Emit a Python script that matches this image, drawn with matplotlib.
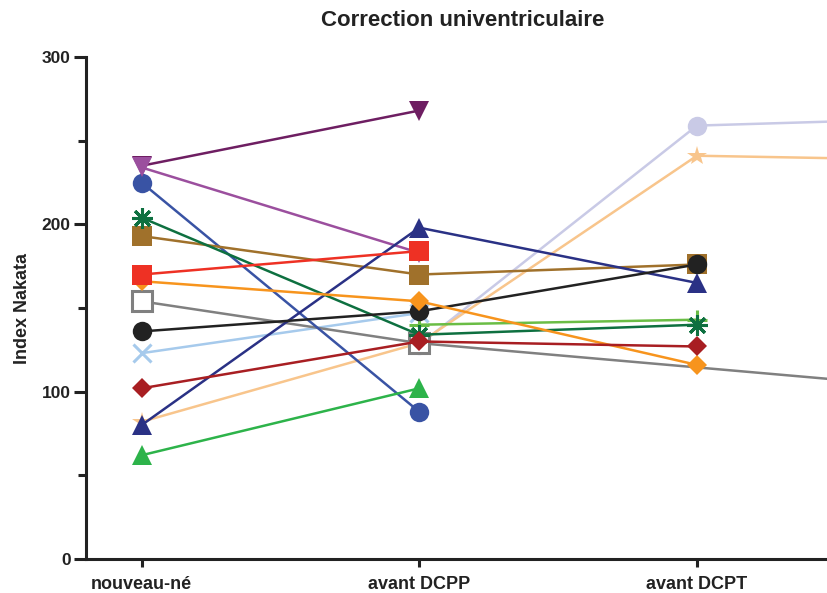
import numpy as np
import matplotlib
matplotlib.use('Agg')
import matplotlib.pyplot as plt

plt.rcParams['font.family'] = ['Liberation Sans', 'DejaVu Sans']
plt.rcParams['font.weight'] = 'bold'

nan = np.nan

# Categories (4th time point lies beyond the right edge of the picture)
categories = ['nouveau-né', 'avant DCPP', 'avant DCPT']

# One list per patient, values at the 4 time points
lavender = [nan, 128, 259, 264]
light_orange = [82, 129, 241, 238]
light_green = [nan, 140, 143, nan]
light_blue = [123, 147, nan, nan]
grey = [154, 129, nan, 100]
blue = [225, 88, nan, nan]
dark_purple = [235, 268, nan, nan]
purple = [234, 183, nan, nan]
brown = [193, 170, 176, nan]
navy = [80, 198, 165, nan]
dark_green = [204, 134, 140, nan]
black = [136, 148, 176, nan]
orange = [166, 154, 116, nan]
red = [170, 184, nan, nan]
dark_red = [102, 130, 127, nan]
green = [62, 102, nan, nan]

# (values, colour, marker, size, filled) -- drawn bottom to top
series = [
    (lavender, '#c9cae6', 'o', 14, True),
    (light_orange, '#f8c58c', '*', 15, True),
    (light_green, '#6abd45', '+', 15, True),
    (light_blue, '#a6caec', 'x', 13, True),
    (grey, '#808080', 's', 14, False),
    (blue, '#3953a4', 'o', 14, True),
    (dark_purple, '#6e1e62', 'v', 15, True),
    (purple, '#9b4f9e', 'v', 15, True),
    (brown, '#a0712b', 's', 15, True),
    (navy, '#2a3185', '^', 15, True),
    (dark_green, '#0e7040', (8, 2, 0), 15, True),
    (black, '#222222', 'o', 14, True),
    (orange, '#f7941d', 'D', 10.5, True),
    (red, '#ee3124', 's', 15, True),
    (dark_red, '#a81e22', 'D', 10.5, True),
    (green, '#2db34a', '^', 15, True),
]

fig = plt.figure(figsize=(8.28, 5.93), dpi=100)
ax = fig.add_axes([86 / 828, 34 / 593, 1 - 86 / 828, 502 / 593])

x_all = np.arange(4)
for z, (vals, col, mk, ms, filled) in enumerate(series):
    v = np.array(vals, dtype=float)
    ok = ~np.isnan(v)
    kw = dict(color=col, marker=mk, markersize=ms, linewidth=1.8, zorder=3 + z)
    if mk in ('+', 'x') or isinstance(mk, tuple):
        kw['markeredgewidth'] = 2.2
    elif filled:
        kw['markeredgewidth'] = 0
    else:
        kw['markerfacecolor'] = 'white'
        kw['markeredgewidth'] = 2.2
    ax.plot(x_all[ok], v[ok], **kw)

ax.set_xlim(-0.2, 2.472)
ax.set_ylim(0, 300)
ax.set_xticks(range(len(categories)))
ax.set_xticklabels(categories, fontsize=13, fontweight='bold', color='#222222')
ax.set_yticks([0, 100, 200, 300])
ax.set_yticks([50, 150, 250], minor=True)
ax.tick_params(axis='y', which='major', length=9, width=2.2, labelsize=12.5, colors='#222222', pad=2)
ax.tick_params(axis='y', which='minor', length=6, width=2.2, colors='#222222')
ax.tick_params(axis='x', which='major', length=6, width=2.2, colors='#222222', pad=6)

for s in ['top', 'right']:
    ax.spines[s].set_visible(False)
for s in ['left', 'bottom']:
    ax.spines[s].set_linewidth(2.2)
    ax.spines[s].set_color('#222222')

ax.set_ylabel('Index Nakata', fontsize=13, fontweight='bold', color='#222222', labelpad=8)
fig.text(463 / 828, 1 - 20 / 593, 'Correction univentriculaire', ha='center', va='center',
         fontsize=16, fontweight='bold', color='#222222')

fig.savefig('out.png', dpi=100)
